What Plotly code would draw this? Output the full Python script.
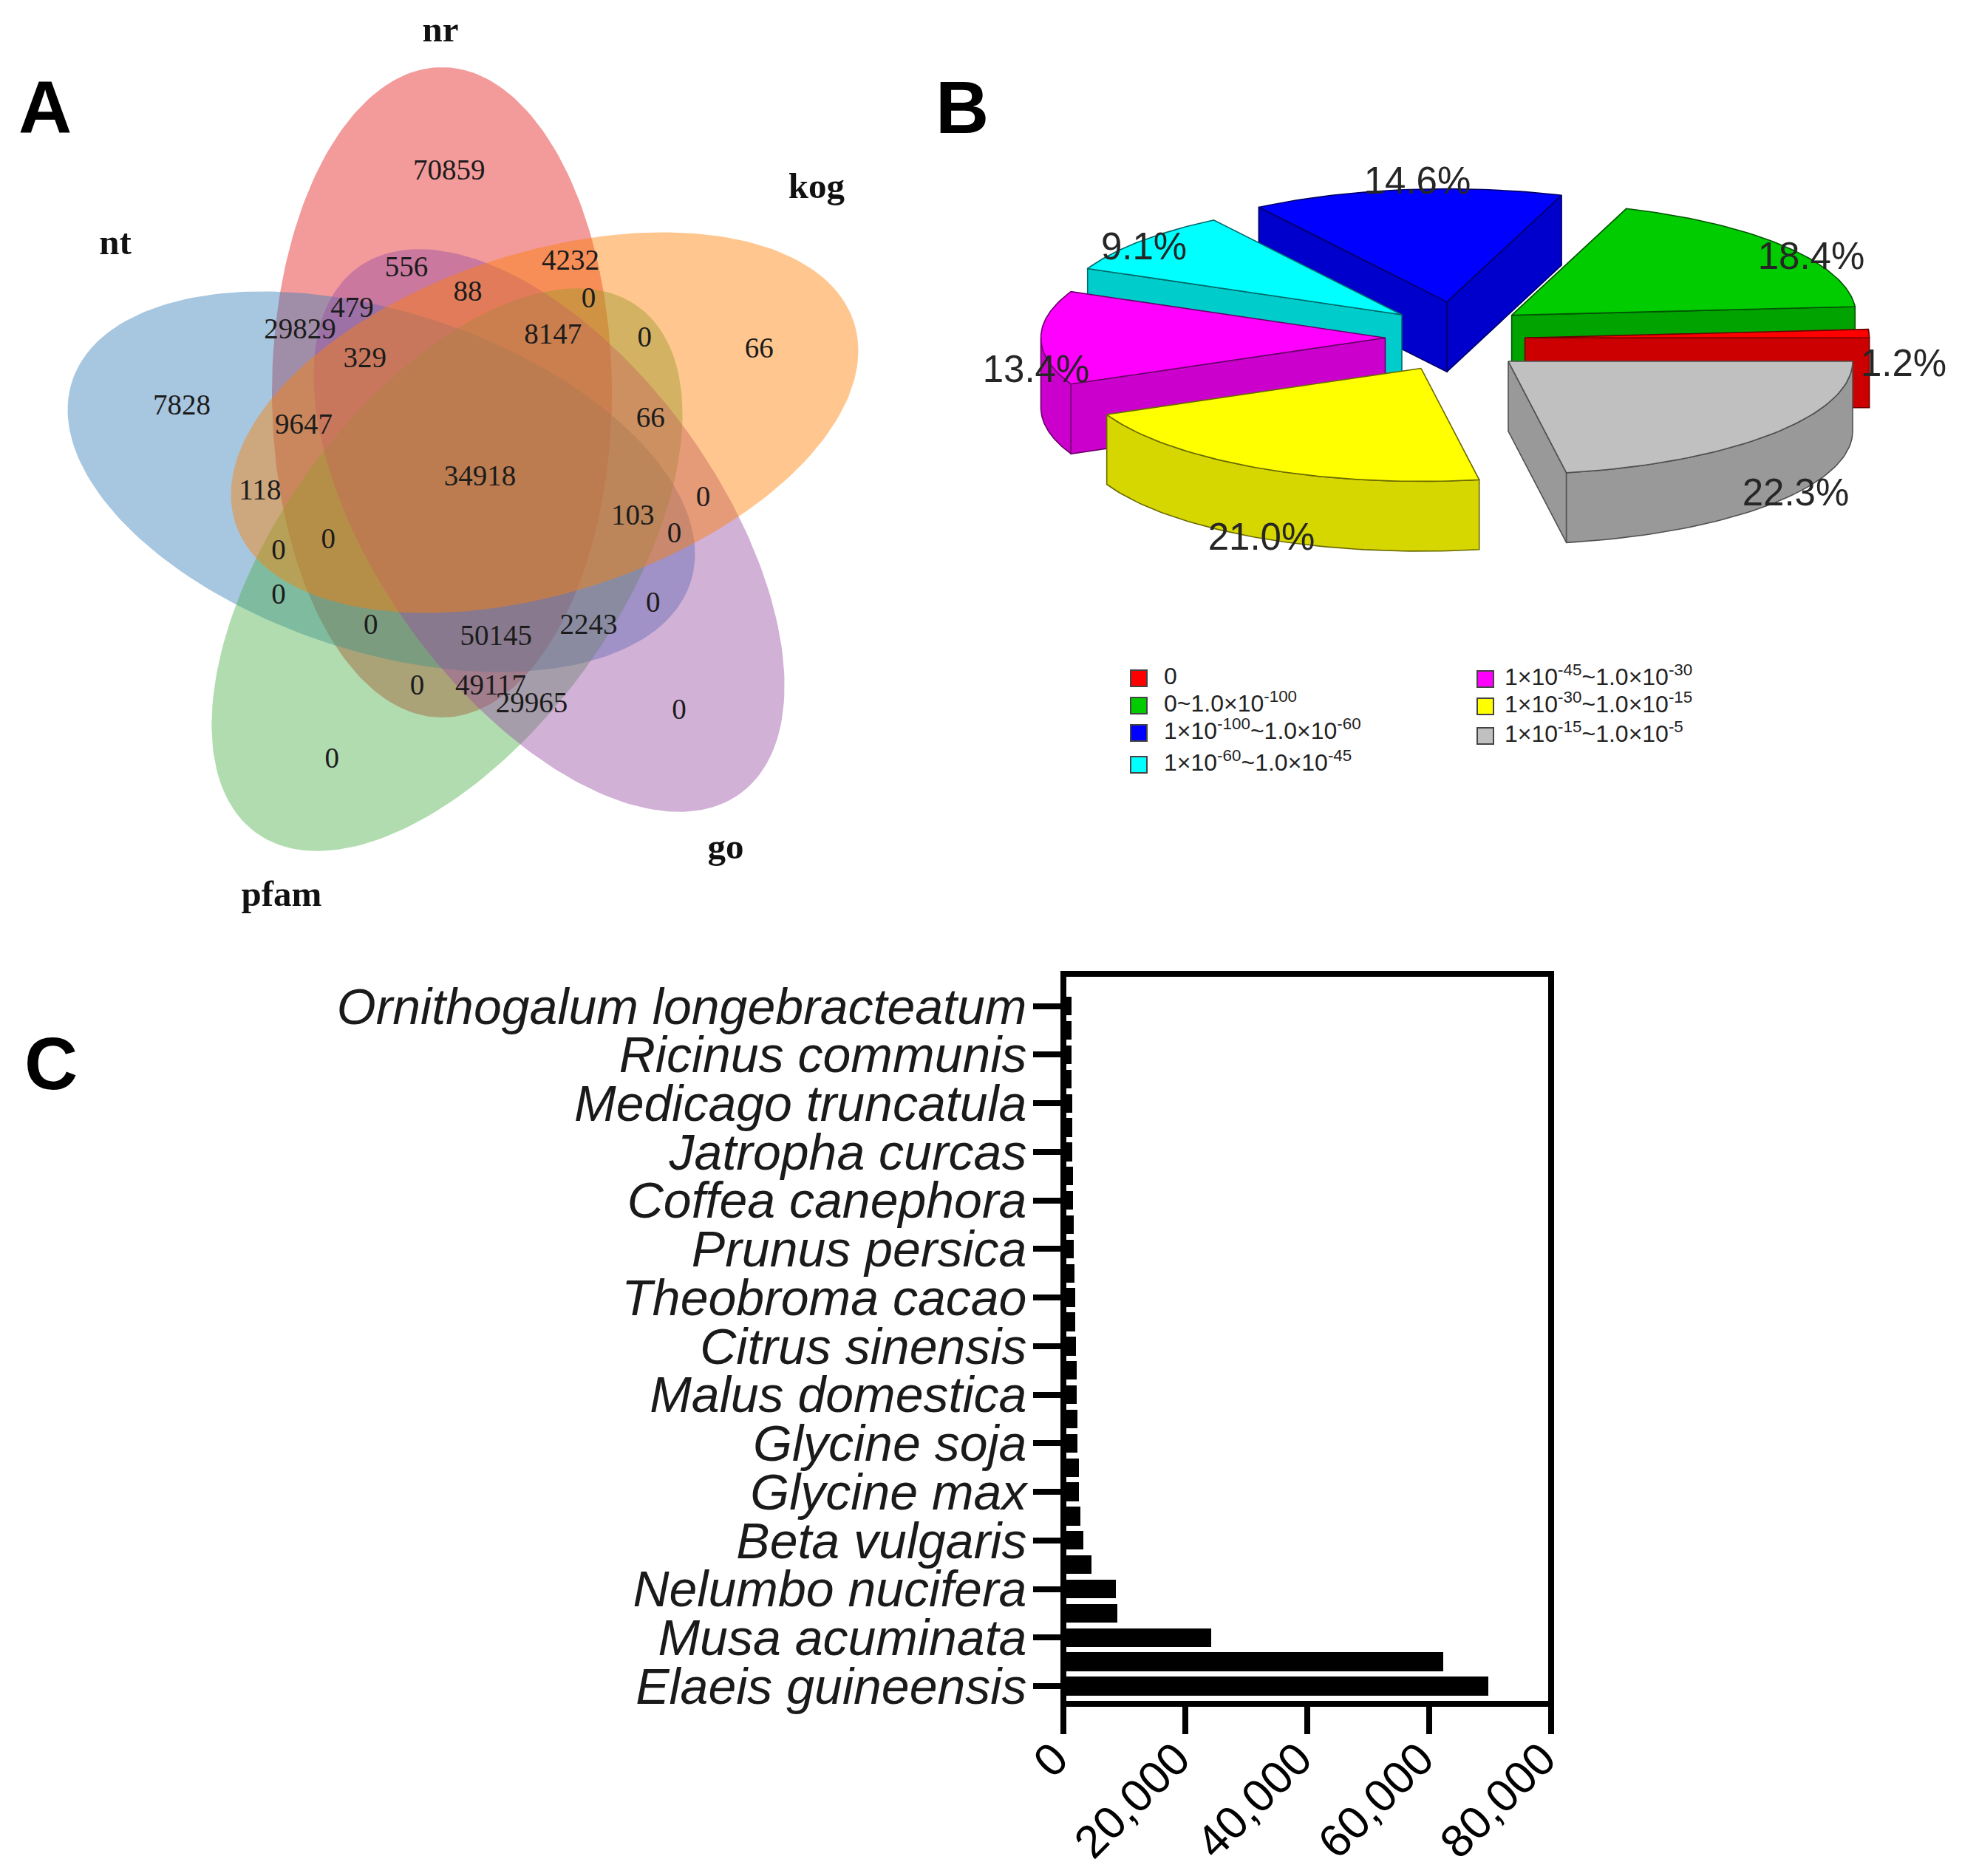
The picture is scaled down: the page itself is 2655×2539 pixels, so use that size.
import numpy as np
import plotly.graph_objects as go

W, H = 2655, 2539

# ---------- data ----------
venn_sets = ["nr", "nt", "pfam", "go", "kog"]
venn_values = [70859, 4232, 556, 88, 0, 479, 29829, 8147, 0, 66, 329, 7828, 9647, 66, 34918, 118,
               0, 103, 0, 0, 0, 0, 0, 0, 2243, 50145, 0, 49117, 29965, 0, 0]
pie_values = [1.2, 18.4, 14.6, 9.1, 13.4, 21.0, 22.3]
pie_labels = ["1.2%", "18.4%", "14.6%", "9.1%", "13.4%", "21.0%", "22.3%"]
legend_labels = ["0", "0~1.0×10<sup>-100</sup>", "1×10<sup>-100</sup>~1.0×10<sup>-60</sup>",
                 "1×10<sup>-60</sup>~1.0×10<sup>-45</sup>", "1×10<sup>-45</sup>~1.0×10<sup>-30</sup>",
                 "1×10<sup>-30</sup>~1.0×10<sup>-15</sup>", "1×10<sup>-15</sup>~1.0×10<sup>-5</sup>"]
species = ["Elaeis guineensis", "Musa acuminata", "Nelumbo nucifera", "Beta vulgaris", "Glycine max",
           "Glycine soja", "Malus domestica", "Citrus sinensis", "Theobroma cacao", "Prunus persica",
           "Coffea canephora", "Jatropha curcas", "Medicago truncatula", "Ricinus communis",
           "Ornithogalum longebracteatum"]
bar_values = [69700, 62300, 24300, 8900, 8600, 4650, 3250, 2800, 2600, 2500, 2350, 2280, 2220, 2200, 2050,
              1950, 1900, 1820, 1750, 1650, 1620, 1520, 1470, 1450, 1400, 1380, 1350, 1320, 1280]
x_ticks = [0, 20000, 40000, 60000, 80000]

# ---------- styling / layout geometry ----------
venn_geom = {  # centre x, centre y, rotation of long axis from vertical (deg, clockwise)
    "nt": (516, 652, -72), "nr": (598, 531, 0), "pfam": (605, 771, 36),
    "go": (743, 718, -36), "kog": (737, 572, 72)}
venn_color = {"nt": "55,126,184", "nr": "228,26,28", "pfam": "77,175,74", "go": "152,78,163", "kog": "255,127,0"}
venn_a, venn_b, venn_alpha = 440, 230, 0.44
venn_text_xy = [(760, 228), (988, 390), (680, 402), (795, 445), (1022, 458), (578, 475), (480, 513), (955, 522),
                (1127, 528), (1342, 548), (602, 565), (258, 650), (487, 685), (1138, 672), (818, 778), (405, 803),
                (1237, 815), (1105, 848), (1183, 880), (533, 890), (440, 910), (440, 990), (1143, 1005), (613, 1045),
                (1022, 1045), (848, 1065), (700, 1153), (838, 1153), (915, 1185), (1192, 1197), (540, 1285)]
venn_name_xy = {"nt": (156, 332), "nr": (596, 44), "pfam": (381, 1214), "go": (982, 1150), "kog": (1105, 256)}

pie_rx, pie_ry, pie_depth = 466, 153, 94.5
pie_apex = [(2063.6, 457.2), (2045.6, 426.6), (1958, 408.6), (1897, 426), (1874.5, 457.2), (1923, 498.5), (2041, 489)]
pie_top = ["#ff0000", "#00cc00", "#0000ff", "#00ffff", "#ff00ff", "#ffff00", "#c0c0c0"]
pie_wall = ["#cc0000", "#00a300", "#0000cc", "#00cccc", "#cc00cc", "#d6d600", "#999999"]
pie_edge = ["#6a0000", "#005500", "#000066", "#006a6a", "#6a006a", "#6a6a00", "#505050"]
pie_order = [2, 3, 4, 5, 1, 0, 6]
pie_text_xy = [(2576, 496), (2451, 351), (1918, 249), (1548, 338), (1402, 504), (1707, 731), (2430, 671)]
legend_xy = [(1541, 918), (1541, 955), (1541, 992), (1541, 1035), (2010, 919), (2010, 956), (2010, 996)]
legend_text_dx = [34, 34, 34, 34, 26, 26, 26]

fig = go.Figure()
OV = dict(xaxis="x2", yaxis="y2", showlegend=False, hoverinfo="skip")


def poly(x, y, fill, edge, width=1.6):
    fig.add_trace(go.Scatter(x=x, y=y, mode="lines", fill="toself", fillcolor=fill,
                             line=dict(color=edge, width=width), **OV))


# ---------- A: Venn ----------
t = np.linspace(0, 2 * np.pi, 241)
for name in venn_sets:
    cx, cy, rot = venn_geom[name]
    r = np.radians(rot)
    u, v = venn_b * np.cos(t), -venn_a * np.sin(t)
    x = cx + u * np.cos(r) - v * np.sin(r)
    y = cy + u * np.sin(r) + v * np.cos(r)
    poly(x, y, f"rgba({venn_color[name]},{venn_alpha})", "rgba(0,0,0,0)", 0)

fig.add_trace(go.Scatter(x=[60 + p[0] * 0.7207 for p in venn_text_xy], y=[62 + p[1] * 0.7526 for p in venn_text_xy],
                         mode="text", text=[str(v) for v in venn_values], textposition="middle center",
                         textfont=dict(family="Liberation Serif", size=39, color="#1c1c1c"), **OV))
fig.add_trace(go.Scatter(x=[venn_name_xy[n][0] for n in venn_sets], y=[venn_name_xy[n][1] for n in venn_sets],
                         mode="text", text=[f"<b>{n}</b>" for n in venn_sets], textposition="middle center",
                         textfont=dict(family="Liberation Serif", size=49, color="#111111"), **OV))

# ---------- B: exploded 3-D pie ----------
ends = np.cumsum(pie_values) * 3.6
a_lo = np.concatenate([[0], ends[:-1]])
a_hi = ends


def rim(ax, ay, a0, a1, dy=0.0):
    ang = np.radians(np.linspace(a0, a1, 60))
    return ax + pie_rx * np.cos(ang), ay - pie_ry * np.sin(ang) + dy


for i in pie_order:
    ax, ay = pie_apex[i]
    lo, hi = a_lo[i], a_hi[i]
    # radial faces that turn towards the viewer
    for ang, vis in ((hi, np.cos(np.radians(hi)) < 0), (lo, np.cos(np.radians(lo)) > 0)):
        if vis:
            px, py = ax + pie_rx * np.cos(np.radians(ang)), ay - pie_ry * np.sin(np.radians(ang))
            poly([ax, px, px, ax, ax], [ay, py, py + pie_depth, ay + pie_depth, ay], pie_wall[i], pie_edge[i])
    # curved outer wall: the part of the arc in the lower half
    s, e = max(lo, 180), min(hi, 360)
    if s < e:
        rx1, ry1 = rim(ax, ay, s, e)
        rx2, ry2 = rim(ax, ay, e, s, pie_depth)
        poly(np.r_[rx1, rx2, rx1[0]], np.r_[ry1, ry2, ry1[0]], pie_wall[i], pie_edge[i])
    rx1, ry1 = rim(ax, ay, lo, hi)
    poly(np.r_[ax, rx1, ax], np.r_[ay, ry1, ay], pie_top[i], pie_edge[i])

fig.add_trace(go.Scatter(x=[p[0] for p in pie_text_xy], y=[p[1] for p in pie_text_xy], mode="text", text=pie_labels,
                         textposition="middle center",
                         textfont=dict(family="Liberation Sans", size=51, color="#262626"), **OV))
fig.add_trace(go.Scatter(x=[p[0] for p in legend_xy], y=[p[1] for p in legend_xy], mode="markers",
                         marker=dict(symbol="square", size=22, color=pie_top, line=dict(color="#444444", width=2)), **OV))
fig.add_trace(go.Scatter(x=[p[0] + d for p, d in zip(legend_xy, legend_text_dx)], y=[p[1] for p in legend_xy],
                         mode="text", text=legend_labels, textposition="middle right",
                         textfont=dict(family="Liberation Sans", size=32, color="#222222"), **OV))

# ---------- panel letters ----------
fig.add_trace(go.Scatter(x=[61, 1302, 69], y=[155, 155, 1449], mode="text", text=["<b>A</b>", "<b>B</b>", "<b>C</b>"],
                         textposition="middle center",
                         textfont=dict(family="Liberation Sans", size=100, color="#000000"), **OV))

# ---------- C: bars ----------
y_pos = list(range(len(bar_values)))
y_range = [-0.73, 29.33]
fig.add_trace(go.Bar(x=bar_values, y=y_pos, orientation="h", width=0.77,
                     marker=dict(color="#000000", line=dict(width=0)), showlegend=False, hoverinfo="skip"))
dom_x = [1439 / W, 2099 / W]
dom_y = [1 - 2306 / H, 1 - 1318 / H]
fig.add_shape(type="rect", xref="paper", yref="paper", x0=dom_x[0], x1=dom_x[1], y0=dom_y[0], y1=dom_y[1],
              line=dict(color="#000000", width=8), fillcolor="rgba(0,0,0,0)", layer="above")

axis_line = dict(showline=False, showgrid=False, zeroline=False,
                 ticks="outside", tickcolor="#000000", tickwidth=8, ticklen=40)

fig.update_layout(
    width=W, height=H, margin=dict(l=0, r=0, t=0, b=0, autoexpand=False), paper_bgcolor="#ffffff",
    plot_bgcolor="rgba(0,0,0,0)", bargap=0, autosize=False,
    xaxis=dict(domain=dom_x, range=[x_ticks[0], x_ticks[-1]], tickvals=x_ticks,
               ticktext=[f"{v:,}" for v in x_ticks], tickangle=-45, ticklabelstandoff=-28, ticklabelshift=-12,
               tickfont=dict(family="Liberation Sans", size=62, color="#000000"), **axis_line),
    yaxis=dict(domain=dom_y, range=y_range, tickvals=y_pos[::2], ticktext=species, ticklabelstandoff=-5,
               tickfont=dict(family="Liberation Sans", size=68, color="#1a1a1a", style="italic"), **axis_line),
    xaxis2=dict(domain=[0, 1], range=[0, W], visible=False, anchor="y2"),
    yaxis2=dict(domain=[0, 1], range=[H, 0], visible=False, anchor="x2"),
)
fig.write_html("out.html", config={"displayModeBar": False},
               post_script="document.body.style.margin='0';document.body.style.overflow='hidden';")
